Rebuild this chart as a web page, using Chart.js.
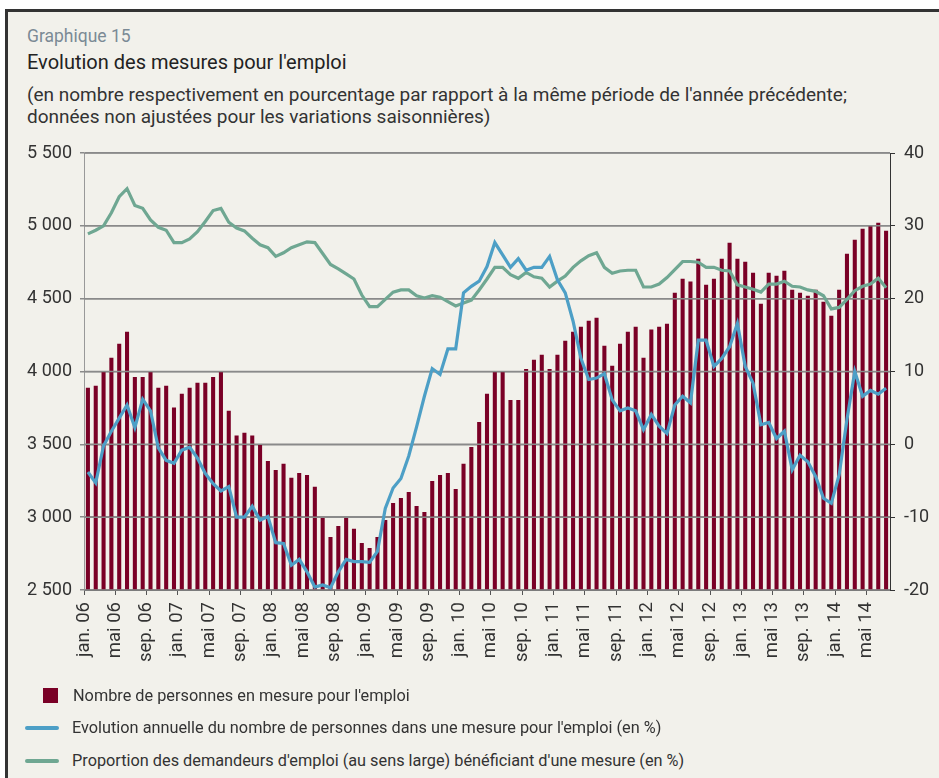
<!DOCTYPE html>
<html>
<head>
<meta charset="utf-8">
<script src="https://cdn.jsdelivr.net/npm/chart.js@4/dist/chart.umd.min.js"></script>
<style>
  html, body { margin: 0; padding: 0; background: #fff; }
  body { width: 939px; height: 778px; position: relative; overflow: hidden; font-family: Roboto, sans-serif; }
  .frame { position: absolute; left: 5px; top: 9px; width: 960px; height: 800px; background: #f2f1eb;
           border-top: 3px solid #333; border-left: 3px solid #333; }
  .txt { position: absolute; left: 27px; white-space: nowrap; }
  #chartbox { position: absolute; left: 0; top: 130px; width: 939px; height: 560px; }
  .leg { position: absolute; font-size: 16.3px; color: #333; white-space: nowrap; line-height: 20px; }
  .sw { position: absolute; }
</style>
</head>
<body>
<div class="frame"></div>
<div class="txt" style="top:25px;font-size:17.5px;line-height:22px;color:#7b8a95;">Graphique 15</div>
<div class="txt" style="top:50px;font-size:20px;line-height:24px;color:#222;">Evolution des mesures pour l'emploi</div>
<div class="txt" style="top:84px;font-size:19px;line-height:22px;color:#333;">(en nombre respectivement en pourcentage par rapport à la même période de l'année précédente;<br>données non ajustées pour les variations saisonnières)</div>
<div id="chartbox"><canvas id="chart" width="939" height="560"></canvas></div>

<div class="sw" style="left:43px;top:688px;width:15px;height:15px;background:#7a0026;"></div>
<div class="leg" style="left:73px;top:686px;">Nombre de personnes en mesure pour l'emploi</div>
<div class="sw" style="left:25px;top:726px;width:34px;height:4px;border-radius:2px;background:#4d9fc6;"></div>
<div class="leg" style="left:72px;top:718px;">Evolution annuelle du nombre de personnes dans une mesure pour l'emploi (en %)</div>
<div class="sw" style="left:25px;top:759px;width:34px;height:4px;border-radius:2px;background:#6fa792;"></div>
<div class="leg" style="left:72px;top:751px;">Proportion des demandeurs d'emploi (au sens large) bénéficiant d'une mesure (en %)</div>

<script>
var monthNames = ['jan.', 'févr.', 'mars', 'avr.', 'mai', 'juin', 'juil.', 'août', 'sep.', 'oct.', 'nov.', 'déc.'];
var years = ['06', '07', '08', '09', '10', '11', '12', '13', '14'];

// nombre de personnes en mesure (axe gauche), jan. 06 - juil. 14
var personnes = [
  3888, 3902, 4000, 4094, 4190, 4273, 3963, 3963, 4000, 3888, 3902, 3753,
  3847, 3888, 3922, 3922, 3963, 4000, 3730, 3560, 3579, 3560, 3500, 3386,
  3324, 3366, 3270, 3304, 3290, 3208, 3002, 2864, 2940, 3002, 2921, 2823,
  2789, 2864, 2981, 3098, 3132, 3173, 3077, 3036, 3249, 3290, 3304, 3194,
  3366, 3482, 3654, 3847, 4000, 4000, 3805, 3805, 4018, 4080, 4115, 4018,
  4115, 4211, 4273, 4307, 4348, 4369, 4177, 4040, 4191, 4273, 4307, 4094,
  4288, 4307, 4328, 4541, 4637, 4617, 4774, 4596, 4637, 4774, 4884, 4774,
  4753, 4678, 4465, 4678, 4657, 4692, 4561, 4541, 4520, 4561, 4479, 4383,
  4561, 4808, 4905, 4980, 5001, 5021, 4966
];

// evolution annuelle en % (axe droit)
var evolution = [
  -3.8, -5.3, -0.2, 1.8, 3.6, 5.4, 2.3, 6.2, 4.6, -0.5, -2.2, -2.6,
  -0.8, -0.4, -1.9, -4.0, -5.4, -6.4, -5.8, -10.0, -10.0, -8.5, -10.4, -9.9,
  -13.5, -13.6, -16.6, -15.8, -17.5, -19.6, -19.3, -19.7, -17.5, -15.8, -16.1, -16.1,
  -16.2, -14.7, -8.8, -6.0, -4.7, -1.6, 2.4, 6.6, 10.4, 9.6, 13.1, 13.1,
  20.8, 21.7, 22.4, 24.4, 27.7, 26.0, 24.3, 25.5, 23.9, 24.3, 24.3, 25.8,
  22.6, 20.8, 16.9, 11.8, 8.9, 9.1, 9.7, 6.1, 4.6, 5.0, 4.6, 2.0,
  4.1, 2.5, 1.5, 5.4, 6.6, 5.7, 14.3, 14.3, 10.7, 11.8, 13.4, 16.6,
  10.7, 8.4, 2.7, 3.0, 0.8, 1.8, -3.5, -1.5, -2.4, -4.4, -7.4, -8.1,
  -4.2, 3.4, 10.0, 6.6, 7.4, 6.9, 7.7
];

// proportion des demandeurs d'emploi beneficiant d'une mesure en % (axe droit)
var proportion = [
  28.9, 29.4, 30.0, 31.8, 34.0, 35.1, 32.8, 32.4, 30.8, 29.8, 29.4, 27.7,
  27.7, 28.2, 29.2, 30.6, 32.1, 32.4, 30.5, 29.7, 29.3, 28.3, 27.4, 27.0,
  25.8, 26.3, 27.0, 27.4, 27.8, 27.7, 26.2, 24.7, 24.1, 23.4, 22.7, 20.5,
  18.9, 18.9, 19.9, 20.9, 21.2, 21.2, 20.4, 20.1, 20.4, 20.2, 19.6, 19.0,
  19.4, 19.8, 21.2, 22.7, 24.3, 24.3, 23.3, 22.8, 23.6, 23.0, 22.8, 21.6,
  22.4, 23.1, 24.3, 25.2, 25.9, 26.3, 24.3, 23.5, 23.8, 23.9, 23.9, 21.6,
  21.6, 22.0, 22.9, 24.0, 25.1, 25.1, 25.0, 24.3, 24.3, 23.9, 23.8, 21.9,
  21.6, 21.3, 20.9, 22.0, 22.0, 22.4, 21.7, 21.6, 21.2, 21.0, 20.4, 18.6,
  18.8, 19.9, 21.1, 21.7, 22.0, 22.8, 21.5
];

var labels = [];
years.forEach(function(y){
  monthNames.forEach(function(m){
    if (labels.length < personnes.length) labels.push(m + ' ' + y);
  });
});

var gridColor = '#8a8a8a';

// gridlines of the left axis drawn again on top of the bars, under the lines
var gridOverBars = {
  id: 'gridOverBars',
  afterDatasetDraw: function(chart, args){
    if (args.index !== 0) return;
    var ctx = chart.ctx, area = chart.chartArea, scale = chart.scales.y;
    ctx.save();
    ctx.strokeStyle = gridColor;
    ctx.lineWidth = 1.5;
    scale.ticks.forEach(function(t){
      var y = scale.getPixelForValue(t.value);
      ctx.beginPath();
      ctx.moveTo(area.left, y);
      ctx.lineTo(area.right, y);
      ctx.stroke();
    });
    ctx.restore();
  }
};

var tickFont = { family: 'Roboto', size: 18 };

new Chart(document.getElementById('chart').getContext('2d'), {
  type: 'bar',
  data: {
    labels: labels,
    datasets: [
      {
        type: 'bar',
        label: "Nombre de personnes en mesure pour l'emploi",
        data: personnes,
        yAxisID: 'y',
        backgroundColor: '#7a0026',
        barPercentage: 0.52,
        categoryPercentage: 1,
        order: 3
      },
      {
        type: 'line',
        label: "Evolution annuelle du nombre de personnes dans une mesure pour l'emploi (en %)",
        data: evolution,
        yAxisID: 'y1',
        borderColor: '#4d9fc6',
        borderWidth: 3.2,
        pointRadius: 0,
        tension: 0,
        order: 1
      },
      {
        type: 'line',
        label: "Proportion des demandeurs d'emploi (au sens large) bénéficiant d'une mesure (en %)",
        data: proportion,
        yAxisID: 'y1',
        borderColor: '#6fa792',
        borderWidth: 3.2,
        pointRadius: 0,
        tension: 0,
        order: 2
      }
    ]
  },
  options: {
    responsive: false,
    animation: false,
    layout: { padding: { top: 23, left: 0, right: 0, bottom: 0 } },
    plugins: {
      legend: { display: false },
      tooltip: { enabled: false }
    },
    scales: {
      x: {
        offset: true,
        grid: {
          offset: true,
          drawOnChartArea: false,
          tickLength: 5,
          color: function(c){ return c.index % 4 === 0 ? '#555' : 'rgba(0,0,0,0)'; }
        },
        border: { color: '#555', width: 1 },
        ticks: {
          autoSkip: false,
          minRotation: 90,
          maxRotation: 90,
          padding: 7,
          labelOffset: -4,
          color: '#333',
          font: { family: 'Roboto', size: 18.5 },
          callback: function(v, i){ return i % 4 === 0 ? labels[i] : ''; }
        },
        afterFit: function(s){ s.height = 100; }
      },
      y: {
        position: 'left',
        min: 2500,
        max: 5500,
        grid: { color: gridColor, lineWidth: 1.5, tickLength: 4 },
        border: { color: '#999', width: 1 },
        ticks: {
          stepSize: 500,
          padding: 8,
          color: '#333',
          font: tickFont,
          callback: function(v){ return String(v).replace(/\B(?=(\d{3})+$)/, ' '); }
        },
        afterFit: function(s){ s.width = 84; }
      },
      y1: {
        position: 'right',
        min: -20,
        max: 40,
        grid: { drawOnChartArea: false, color: '#333', tickLength: 5 },
        border: { color: '#333', width: 1 },
        ticks: {
          stepSize: 10,
          padding: 9,
          color: '#333',
          font: tickFont
        },
        afterFit: function(s){ s.width = 49; }
      }
    }
  },
  plugins: [gridOverBars]
});
</script>
</body>
</html>
